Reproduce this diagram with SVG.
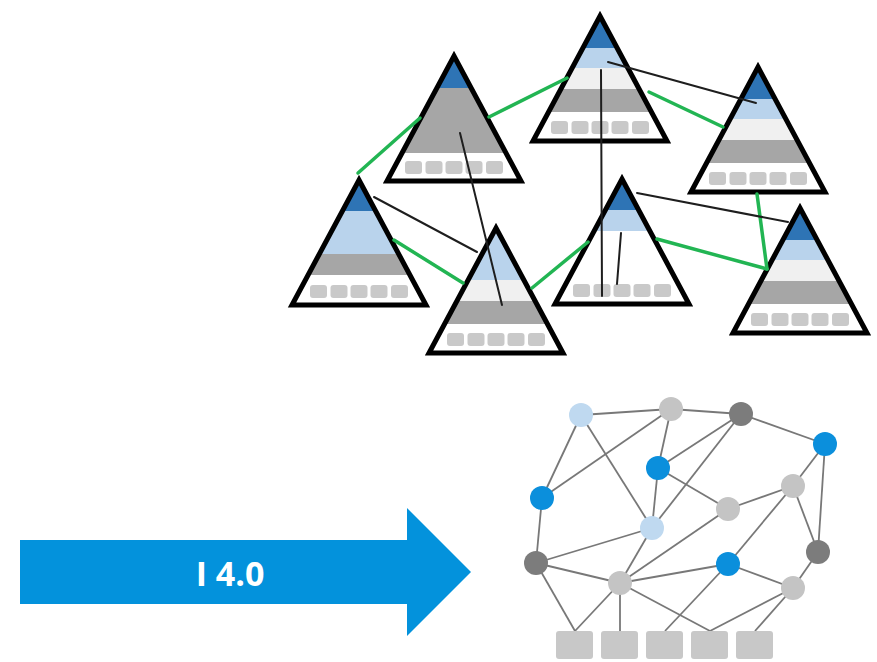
<svg xmlns="http://www.w3.org/2000/svg" xmlns:xlink="http://www.w3.org/1999/xlink" width="877" height="662" viewBox="0 0 877 662">
  <style>
    .tri-bg { fill: #ffffff; }
    .tri-line { fill: none; stroke: #000000; stroke-width: 5; stroke-linejoin: miter; }
    .b-dark { fill: #2e74b5; }
    .b-light { fill: #b9d3ec; }
    .b-pale { fill: #f0f0f0; }
    .b-grey { fill: #a6a6a6; }
    .box { fill: #c9c9c9; }
    .link-green { stroke: #22b553; stroke-width: 3.5; stroke-linecap: round; fill: none; }
    .link-black { stroke: #1e1e1e; stroke-width: 2; stroke-linecap: round; fill: none; }
    .edge { stroke: #787878; stroke-width: 1.8; fill: none; }
    .n-blue { fill: #0b8fdc; }
    .n-lblue { fill: #bfd9f0; }
    .n-grey { fill: #c4c4c4; }
    .n-dark { fill: #7c7c7c; }
    .base-box { fill: #c8c8c8; }
    .arrow { fill: #0392dc; }
    .label { fill: #ffffff; font-family: "Open Sans", "Liberation Sans", sans-serif; font-weight: 700; font-size: 34px; }
  </style>
  <defs>
    <!-- pyramid outline, tip at local origin -->
    <polygon id="tri" points="0,6 67,131 -67,131"/>
    <clipPath id="triClip">
      <use xlink:href="#tri"/>
    </clipPath>
    <!-- row of five units at the foot of each pyramid -->
    <g id="units">
      <rect class="box" x="-49" y="111" width="17" height="13" rx="3"/>
      <rect class="box" x="-28.5" y="111" width="17" height="13" rx="3"/>
      <rect class="box" x="-8.5" y="111" width="17" height="13" rx="3"/>
      <rect class="box" x="11.5" y="111" width="17" height="13" rx="3"/>
      <rect class="box" x="32" y="111" width="17" height="13" rx="3"/>
    </g>
    <g id="bandsFull">
      <rect class="b-dark" x="-72" y="0" width="144" height="38"/>
      <rect class="b-light" x="-72" y="38" width="144" height="20"/>
      <rect class="b-pale" x="-72" y="58" width="144" height="21"/>
      <rect class="b-grey" x="-72" y="79" width="144" height="23"/>
    </g>
  </defs>

  <!-- pyramids -->
  <g id="pyramid-1" transform="translate(454,50)">
    <use xlink:href="#tri" class="tri-bg"/>
    <g clip-path="url(#triClip)">
      <rect class="b-dark" x="-72" y="0" width="144" height="38"/>
      <rect class="b-grey" x="-72" y="38" width="144" height="65"/>
    </g>
    <use xlink:href="#units"/>
    <use xlink:href="#tri" class="tri-line"/>
  </g>

  <g id="pyramid-2" transform="translate(600,10)">
    <use xlink:href="#tri" class="tri-bg"/>
    <g clip-path="url(#triClip)"><use xlink:href="#bandsFull"/></g>
    <use xlink:href="#units"/>
    <use xlink:href="#tri" class="tri-line"/>
  </g>

  <g id="pyramid-3" transform="translate(758,61)">
    <use xlink:href="#tri" class="tri-bg"/>
    <g clip-path="url(#triClip)"><use xlink:href="#bandsFull"/></g>
    <use xlink:href="#units"/>
    <use xlink:href="#tri" class="tri-line"/>
  </g>

  <g id="pyramid-4" transform="translate(359,174)">
    <use xlink:href="#tri" class="tri-bg"/>
    <g clip-path="url(#triClip)">
      <rect class="b-dark" x="-72" y="0" width="144" height="37"/>
      <rect class="b-light" x="-72" y="37" width="144" height="43"/>
      <rect class="b-grey" x="-72" y="80" width="144" height="21"/>
    </g>
    <use xlink:href="#units"/>
    <use xlink:href="#tri" class="tri-line"/>
  </g>

  <g id="pyramid-5" transform="translate(496,222)">
    <use xlink:href="#tri" class="tri-bg"/>
    <g clip-path="url(#triClip)">
      <rect class="b-light" x="-72" y="0" width="144" height="58"/>
      <rect class="b-pale" x="-72" y="58" width="144" height="21"/>
      <rect class="b-grey" x="-72" y="79" width="144" height="23"/>
    </g>
    <use xlink:href="#units"/>
    <use xlink:href="#tri" class="tri-line"/>
  </g>

  <g id="pyramid-6" transform="translate(622,173)">
    <use xlink:href="#tri" class="tri-bg"/>
    <g clip-path="url(#triClip)">
      <rect class="b-dark" x="-72" y="0" width="144" height="37"/>
      <rect class="b-light" x="-72" y="37" width="144" height="21"/>
    </g>
    <use xlink:href="#units"/>
    <use xlink:href="#tri" class="tri-line"/>
  </g>

  <g id="pyramid-7" transform="translate(800,202)">
    <use xlink:href="#tri" class="tri-bg"/>
    <g clip-path="url(#triClip)"><use xlink:href="#bandsFull"/></g>
    <use xlink:href="#units"/>
    <use xlink:href="#tri" class="tri-line"/>
  </g>

  <!-- links between pyramids -->
  <g id="pyramid-links">
    <line class="link-green" x1="358" y1="173" x2="420" y2="118"/>
    <line class="link-green" x1="489" y1="117" x2="567" y2="78"/>
    <line class="link-green" x1="649" y1="92" x2="723" y2="127"/>
    <line class="link-green" x1="394" y1="240" x2="463" y2="283"/>
    <line class="link-green" x1="532" y1="288" x2="588" y2="242"/>
    <line class="link-green" x1="657" y1="239" x2="767" y2="269"/>
    <line class="link-green" x1="757" y1="194" x2="767" y2="269"/>
    <line class="link-black" x1="460" y1="133" x2="502" y2="305"/>
    <line class="link-black" x1="608" y1="62" x2="756" y2="103"/>
    <line class="link-black" x1="601" y1="70" x2="602" y2="296"/>
    <line class="link-black" x1="621" y1="233" x2="617" y2="284"/>
    <line class="link-black" x1="637" y1="193" x2="788" y2="222"/>
    <line class="link-black" x1="374" y1="197" x2="477" y2="252"/>
  </g>

  <!-- transition arrow -->
  <g id="arrow">
    <polygon class="arrow" points="20,540 407,540 407,508 471,572 407,636 407,604 20,604"/>
    <text class="label" x="230" y="586" text-anchor="middle">I 4.0</text>
  </g>

  <!-- network edges -->
  <g id="network-edges" class="edge">
    <line x1="581" y1="415" x2="671" y2="409"/>
    <line x1="671" y1="409" x2="741" y2="414"/>
    <line x1="741" y1="414" x2="825" y2="444"/>
    <line x1="581" y1="415" x2="542" y2="498"/>
    <line x1="581" y1="415" x2="652" y2="528"/>
    <line x1="671" y1="409" x2="542" y2="498"/>
    <line x1="671" y1="409" x2="658" y2="468"/>
    <line x1="741" y1="414" x2="658" y2="468"/>
    <line x1="741" y1="414" x2="652" y2="528"/>
    <line x1="658" y1="468" x2="652" y2="528"/>
    <line x1="658" y1="468" x2="728" y2="509"/>
    <line x1="825" y1="444" x2="793" y2="486"/>
    <line x1="825" y1="444" x2="818" y2="552"/>
    <line x1="728" y1="509" x2="793" y2="486"/>
    <line x1="793" y1="486" x2="818" y2="552"/>
    <line x1="793" y1="486" x2="728" y2="564"/>
    <line x1="542" y1="498" x2="536" y2="563"/>
    <line x1="536" y1="563" x2="652" y2="528"/>
    <line x1="536" y1="563" x2="620" y2="583"/>
    <line x1="536" y1="563" x2="575" y2="631"/>
    <line x1="652" y1="528" x2="620" y2="583"/>
    <line x1="728" y1="509" x2="620" y2="583"/>
    <line x1="620" y1="583" x2="728" y2="564"/>
    <line x1="728" y1="564" x2="793" y2="588"/>
    <line x1="818" y1="552" x2="793" y2="588"/>
    <line x1="620" y1="583" x2="575" y2="631"/>
    <line x1="620" y1="583" x2="620" y2="631"/>
    <line x1="620" y1="583" x2="710" y2="631"/>
    <line x1="728" y1="564" x2="665" y2="631"/>
    <line x1="793" y1="588" x2="710" y2="631"/>
    <line x1="793" y1="588" x2="755" y2="631"/>
  </g>

  <!-- network nodes -->
  <g id="node-1"><circle class="n-lblue" cx="581" cy="415" r="12"/></g>
  <g id="node-2"><circle class="n-grey" cx="671" cy="409" r="12"/></g>
  <g id="node-3"><circle class="n-dark" cx="741" cy="414" r="12"/></g>
  <g id="node-4"><circle class="n-blue" cx="825" cy="444" r="12"/></g>
  <g id="node-5"><circle class="n-blue" cx="658" cy="468" r="12"/></g>
  <g id="node-6"><circle class="n-blue" cx="542" cy="498" r="12"/></g>
  <g id="node-7"><circle class="n-grey" cx="793" cy="486" r="12"/></g>
  <g id="node-8"><circle class="n-grey" cx="728" cy="509" r="12"/></g>
  <g id="node-9"><circle class="n-lblue" cx="652" cy="528" r="12"/></g>
  <g id="node-10"><circle class="n-dark" cx="536" cy="563" r="12"/></g>
  <g id="node-11"><circle class="n-dark" cx="818" cy="552" r="12"/></g>
  <g id="node-12"><circle class="n-blue" cx="728" cy="564" r="12"/></g>
  <g id="node-13"><circle class="n-grey" cx="620" cy="583" r="12"/></g>
  <g id="node-14"><circle class="n-grey" cx="793" cy="588" r="12"/></g>

  <!-- field units under the network -->
  <g id="units-row">
    <rect class="base-box" x="556" y="631" width="37" height="28" rx="3"/>
    <rect class="base-box" x="601" y="631" width="37" height="28" rx="3"/>
    <rect class="base-box" x="646" y="631" width="37" height="28" rx="3"/>
    <rect class="base-box" x="691" y="631" width="37" height="28" rx="3"/>
    <rect class="base-box" x="736" y="631" width="37" height="28" rx="3"/>
  </g>
</svg>
